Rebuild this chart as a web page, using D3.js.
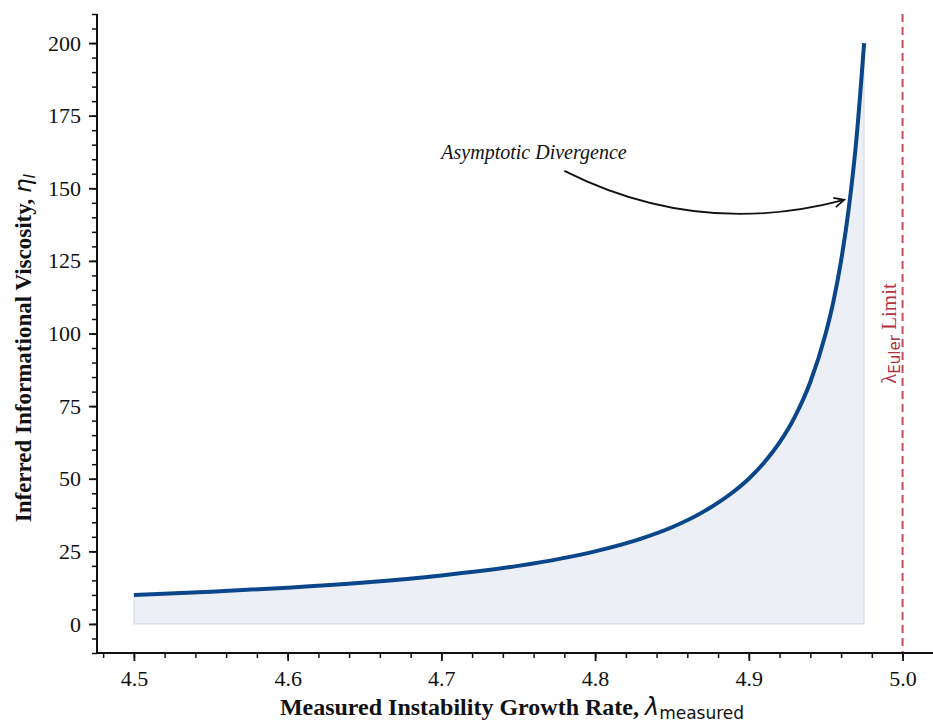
<!DOCTYPE html>
<html>
<head>
<meta charset="utf-8">
<script src="https://cdn.jsdelivr.net/npm/d3@7"></script>
<style>
    html, body { margin: 0; padding: 0; background: #fff; }
    svg { display: block; }
    .tick text { font-family: "Liberation Serif", "DejaVu Serif", serif; font-size: 22px; fill: #111; }
    .serif { font-family: "Liberation Serif", "DejaVu Serif", serif; }
    .sans { font-family: "DejaVu Sans", sans-serif; }
</style>
</head>
<body>
<svg id="chart" width="933" height="724"></svg>
<script>
// values
const lambdaValues = [4.50, 4.55, 4.60, 4.65, 4.70, 4.75, 4.80, 4.83, 4.85, 4.87, 4.89, 4.90, 4.91, 4.92, 4.93, 4.94, 4.95, 4.955, 4.96, 4.965, 4.97, 4.975];
const viscosityValues = [10, 11.1, 12.5, 14.3, 16.7, 20, 25, 29.4, 33.3, 38.5, 45.5, 50, 55.6, 62.5, 71.4, 83.3, 100, 111, 125, 143, 167, 200];
const xTicks = [4.5, 4.6, 4.7, 4.8, 4.9, 5.0];
const yTicks = [0, 25, 50, 75, 100, 125, 150, 175, 200];
const eulerLimit = 5.0;
const annotation = { text: 'Asymptotic Divergence', textAt: [4.7, 160], from: [4.78, 156], to: [4.962, 146] };

(() => {
    const svg = d3.select('#chart');
    const plotLeft = 97, plotRight = 933, plotTop = 14, plotBottom = 653;

    const x = d3.scaleLinear().domain([4.476, 5.0198]).range([plotLeft, plotRight]);
    const y = d3.scaleLinear().domain([-10, 210]).range([plotBottom, plotTop]);

    const points = lambdaValues.map((l, i) => ({ l, v: viscosityValues[i] }));

    // fill under curve
    const area = d3.area().x(d => x(d.l)).y0(y(0)).y1(d => y(d.v)).curve(d3.curveMonotoneX);
    svg.append('path').datum(points).attr('d', area)
        .attr('fill', '#0b468a').attr('fill-opacity', 0.08)
        .attr('stroke', '#0b468a').attr('stroke-opacity', 0.1).attr('stroke-width', 1.5);

    // Euler limit
    svg.append('line')
        .attr('x1', x(eulerLimit)).attr('x2', x(eulerLimit))
        .attr('y1', plotTop).attr('y2', plotBottom)
        .attr('stroke', '#c44e5c').attr('stroke-width', 2).attr('stroke-dasharray', '8,5');

    // main curve
    const line = d3.line().x(d => x(d.l)).y(d => y(d.v)).curve(d3.curveMonotoneX);
    svg.append('path').datum(points).attr('d', line)
        .attr('fill', 'none').attr('stroke', '#0b468a').attr('stroke-width', 4);

    // axes
    const xMinor = d3.range(4.48, 5.021, 0.02);
    const yMinor = d3.range(-10, 211, 5);
    svg.append('g').attr('transform', `translate(0,${plotBottom})`)
        .call(d3.axisBottom(x).tickValues(xMinor).tickSize(5).tickFormat(''))
        .call(g => g.select('.domain').remove())
        .call(g => g.selectAll('line').attr('stroke', '#111').attr('stroke-width', 1.5));
    svg.append('g').attr('transform', `translate(${plotLeft},0)`)
        .call(d3.axisLeft(y).tickValues(yMinor).tickSize(5).tickFormat(''))
        .call(g => g.select('.domain').remove())
        .call(g => g.selectAll('line').attr('stroke', '#111').attr('stroke-width', 1.5));

    const xAxis = svg.append('g').attr('transform', `translate(0,${plotBottom})`)
        .call(d3.axisBottom(x).tickValues(xTicks).tickSize(8).tickPadding(9).tickFormat(d3.format('.1f')));
    const yAxis = svg.append('g').attr('transform', `translate(${plotLeft},0)`)
        .call(d3.axisLeft(y).tickValues(yTicks).tickSize(8).tickPadding(8).tickFormat(d3.format('d')));
    [xAxis, yAxis].forEach(g => {
        g.select('.domain').remove();
        g.selectAll('line').attr('stroke', '#111').attr('stroke-width', 1.8);
    });
    svg.append('line').attr('x1', plotLeft).attr('x2', plotRight).attr('y1', plotBottom).attr('y2', plotBottom).attr('stroke', '#111').attr('stroke-width', 2);
    svg.append('line').attr('x1', plotLeft).attr('x2', plotLeft).attr('y1', plotTop).attr('y2', plotBottom).attr('stroke', '#111').attr('stroke-width', 2);

    // axis labels
    const xl = svg.append('text').attr('x', 512).attr('y', 715).attr('text-anchor', 'middle').attr('fill', '#111');
    xl.append('tspan').attr('class', 'serif').attr('font-weight', 'bold').attr('font-size', 24).text('Measured Instability Growth Rate, ');
    xl.append('tspan').attr('class', 'sans').attr('font-style', 'italic').attr('font-size', 24).text('λ');
    xl.append('tspan').attr('class', 'sans').attr('font-size', 17).attr('dy', 4).text('measured');

    const yl = svg.append('text').attr('transform', 'translate(31,348) rotate(-90)').attr('text-anchor', 'middle').attr('fill', '#111');
    yl.append('tspan').attr('class', 'serif').attr('font-weight', 'bold').attr('font-size', 23).text('Inferred Informational Viscosity, ');
    yl.append('tspan').attr('class', 'sans').attr('font-style', 'italic').attr('font-size', 23).text('η');
    yl.append('tspan').attr('class', 'sans').attr('font-style', 'italic').attr('font-size', 16).attr('dy', 4).text('I');

    // Euler limit label
    const el = svg.append('text').attr('transform', `translate(${x(eulerLimit) - 7},${y(100)}) rotate(-90)`).attr('text-anchor', 'middle').attr('fill', '#b3303f');
    el.append('tspan').attr('class', 'serif').attr('font-size', 21).text('λ');
    el.append('tspan').attr('class', 'sans').attr('font-size', 15).attr('dy', 4).text('Euler');
    el.append('tspan').attr('class', 'serif').attr('font-size', 21).attr('dy', -4).text(' Limit');

    // annotation
    svg.append('text').attr('class', 'serif').attr('x', x(annotation.textAt[0])).attr('y', y(annotation.textAt[1]))
        .attr('font-style', 'italic').attr('font-size', 20).attr('fill', '#111').text(annotation.text);
    const [x1, y1] = [x(annotation.from[0]), y(annotation.from[1])];
    const [x2, y2] = [x(annotation.to[0]), y(annotation.to[1])];
    const rad = 0.19;
    const cx = (x1 + x2) / 2 - rad * (y2 - y1), cy = (y1 + y2) / 2 + rad * (x2 - x1);
    svg.append('path').attr('d', `M${x1},${y1}Q${cx},${cy} ${x2},${y2}`)
        .attr('fill', 'none').attr('stroke', '#111').attr('stroke-width', 1.8);
    const ang = Math.atan2(y2 - cy, x2 - cx);
    const head = a => [x2 - 11 * Math.cos(ang + a), y2 - 11 * Math.sin(ang + a)];
    const [h1, h2] = [head(0.45), head(-0.45)];
    svg.append('path').attr('d', `M${h1[0]},${h1[1]}L${x2},${y2}L${h2[0]},${h2[1]}`)
        .attr('fill', 'none').attr('stroke', '#111').attr('stroke-width', 1.8);
})();
</script>
</body>
</html>
